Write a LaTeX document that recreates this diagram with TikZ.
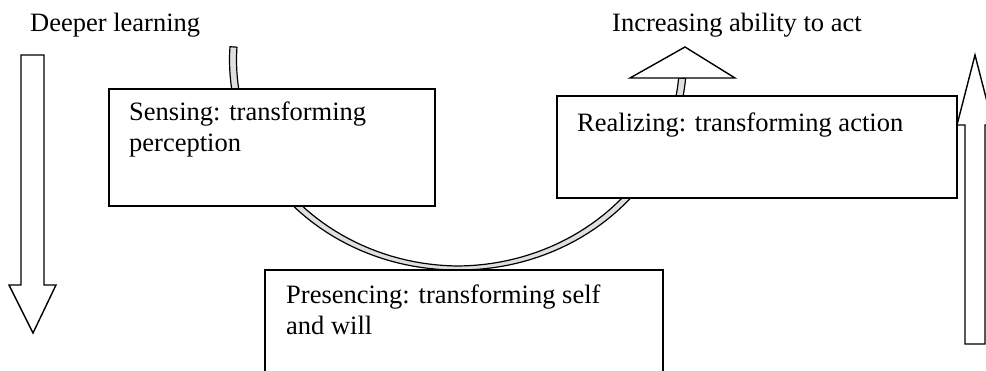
\documentclass[tikz,border=0pt]{standalone}
\usepackage{fontspec}
\setmainfont{Liberation Serif}
\begin{document}
\begin{tikzpicture}[x=1pt,y=-1pt,
  box/.style={draw=black, line width=1.6pt, fill=white, inner sep=0pt, anchor=north west},
  lbl/.style={inner sep=0pt, anchor=base west, align=left, font=\fontsize{26.5}{31}\selectfont},
  blockarrow/.style={draw=black, line width=1.4pt, fill=white, line join=miter},
  tube/.style={draw=black, line width=1.2pt, fill=gray!25, line join=round}]
\useasboundingbox (0,0) rectangle (986,371);
\clip (0,0) rectangle (986,371);

% curved tube running behind the three stages (wider at its ends)
\filldraw[tube]
  plot[variable=\t, domain=5:183.6, samples=90]
    ({458+(225+2+1.5*abs(cos(\t)))*cos(\t)},{60+(208+2+1.5*abs(cos(\t)))*sin(\t)})
  -- plot[variable=\t, domain=183.6:5, samples=90]
    ({458+(225-2-1.5*abs(cos(\t)))*cos(\t)},{60+(208-2-1.5*abs(cos(\t)))*sin(\t)})
  -- cycle;

% stage boxes
\node[box, minimum width=326pt, minimum height=117pt] (sensing) at (108,88) {};
\node[box, minimum width=400pt, minimum height=102pt] (realizing) at (556,95) {};
\node[box, minimum width=398pt, minimum height=130pt] (presencing) at (264,269) {};

% head of the curved tube
\filldraw[blockarrow] (630,78) -- (685,47) -- (735,78) -- cycle;

% downward block arrow
\filldraw[blockarrow] (21,55) -- (44,55) -- (44,285) -- (56,285) -- (33,333)
  -- (9,285) -- (21,285) -- cycle;

% upward block arrow
\filldraw[blockarrow] (965,344) -- (985,344) -- (985,125) -- (993,125) -- (975,55)
  -- (957,125) -- (965,125) -- cycle;

% texts (multi-line nodes are placed by the baseline of their last line)
\node[lbl] (deeper) at (30,32) {Deeper learning};
\node[lbl] (ability) at (612,32) {Increasing ability to act};
\node[lbl] (sensingtxt) at (129,152) {Sensing: transforming\\perception};
\node[lbl] (realizingtxt) at (577,132) {Realizing: transforming action};
\node[lbl] (presencingtxt) at (286,335) {Presencing: transforming self\\and will};
\end{tikzpicture}
\end{document}
